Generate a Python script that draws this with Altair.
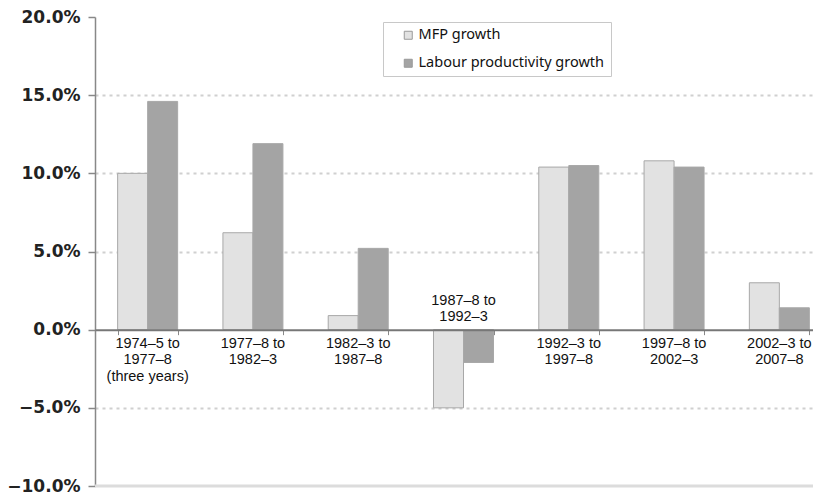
import altair as alt
import pandas as pd

categories = [
    "1974–5 to\n1977–8\n(three years)",
    "1977–8 to\n1982–3",
    "1982–3 to\n1987–8",
    "1987–8 to\n1992–3",
    "1992–3 to\n1997–8",
    "1997–8 to\n2002–3",
    "2002–3 to\n2007–8",
]
series_names = ["MFP growth", "Labour productivity growth"]
mfp_growth = [10.0, 6.2, 0.9, -5.0, 10.4, 10.8, 3.0]
lp_growth = [14.6, 11.9, 5.2, -2.1, 10.5, 10.4, 1.4]
y_ticks = [-10, -5, 0, 5, 10, 15, 20]

rows = []
for c, a, b in zip(categories, mfp_growth, lp_growth):
    rows.append({"cat": c, "series": series_names[0], "value": a})
    rows.append({"cat": c, "series": series_names[1], "value": b})
df = pd.DataFrame(rows)

lab_df = pd.DataFrame({"cat": categories,
                       "neg": [v < 0 for v in mfp_growth]})

W, H = 718, 469

x_enc = alt.X("cat:N", sort=categories,
              scale=alt.Scale(range=[0, 737], paddingInner=0.43, paddingOuter=0.215),
              axis=alt.Axis(labels=False, title=None, orient="bottom",
                            offset=-H / 3, domainColor="#777", domainWidth=2,
                            ticks=True, tickColor="#888", tickSize=5,
                            tickBand="extent", grid=False, zindex=1))

y_scale = alt.Scale(domain=[-10, 20], nice=False, zero=False)

bars = alt.Chart(df).mark_bar(stroke="#a8a8a8", strokeWidth=1).encode(
    x=x_enc,
    xOffset=alt.XOffset("series:N", sort=series_names,
                        scale=alt.Scale(paddingInner=0, paddingOuter=0)),
    y=alt.Y("value:Q", scale=y_scale,
            axis=alt.Axis(values=y_ticks, title=None,
                          labelExpr="format(datum.value, '.1f') + '%'",
                          labelFont="DejaVu Sans", labelFontWeight="bold",
                          labelFontSize=17, labelColor="#222",
                          tickSize=7, tickColor="#888", tickWidth=1.5,
                          domainColor="#888", domainWidth=1.5,
                          labelPadding=8,
                          grid=True, gridDash=[3, 4], gridColor="#d0d0d0",
                          gridWidth=2,
                          gridOpacity={"condition": {"test": "datum.value == 20 || datum.value == -10 || datum.value == 0", "value": 0}, "value": 1})),
    color=alt.Color("series:N", sort=series_names,
                    scale=alt.Scale(domain=series_names, range=["#e2e2e2", "#a4a4a4"]),
                    legend=alt.Legend(title=None, orient="none", legendX=288, legendY=5,
                                      padding=6, strokeColor="#c8c8c8", fillColor="white",
                                      symbolType="square", symbolSize=64,
                                      symbolStrokeColor="#999", symbolStrokeWidth=1,
                                      labelFont="Noto Sans", labelFontSize=14.5,
                                      labelColor="#111", rowPadding=13, labelLimit=0,
                                      symbolOffset=12, labelOffset=3)),
)

bottom_line = alt.Chart(alt.Data(values=[{}])).mark_rule(
    color="#dcdcdc", strokeWidth=3).encode(y=alt.datum(-10))

text_style = dict(font="Liberation Sans", fontSize=14.5, lineBreak="\n",
                  lineHeight=16.5, color="#111", align="center")

labels_below = alt.Chart(lab_df).transform_filter("!datum.neg").mark_text(
    baseline="top", dy=7, **text_style).encode(
    x=alt.X("cat:N", sort=categories), y=alt.datum(0), text="cat:N")

labels_above = alt.Chart(lab_df).transform_filter("datum.neg").mark_text(
    baseline="bottom", dy=-22, **text_style).encode(
    x=alt.X("cat:N", sort=categories), y=alt.datum(0), text="cat:N")

chart = alt.layer(bottom_line, bars, labels_below, labels_above).properties(
    width=W, height=H,
    autosize=alt.AutoSizeParams(type="none"),
    padding={"left": 87, "top": 9, "right": 0, "bottom": 12},
).configure_view(stroke=None)

chart.save("out.html", embed_options={"renderer": "svg", "actions": False})
